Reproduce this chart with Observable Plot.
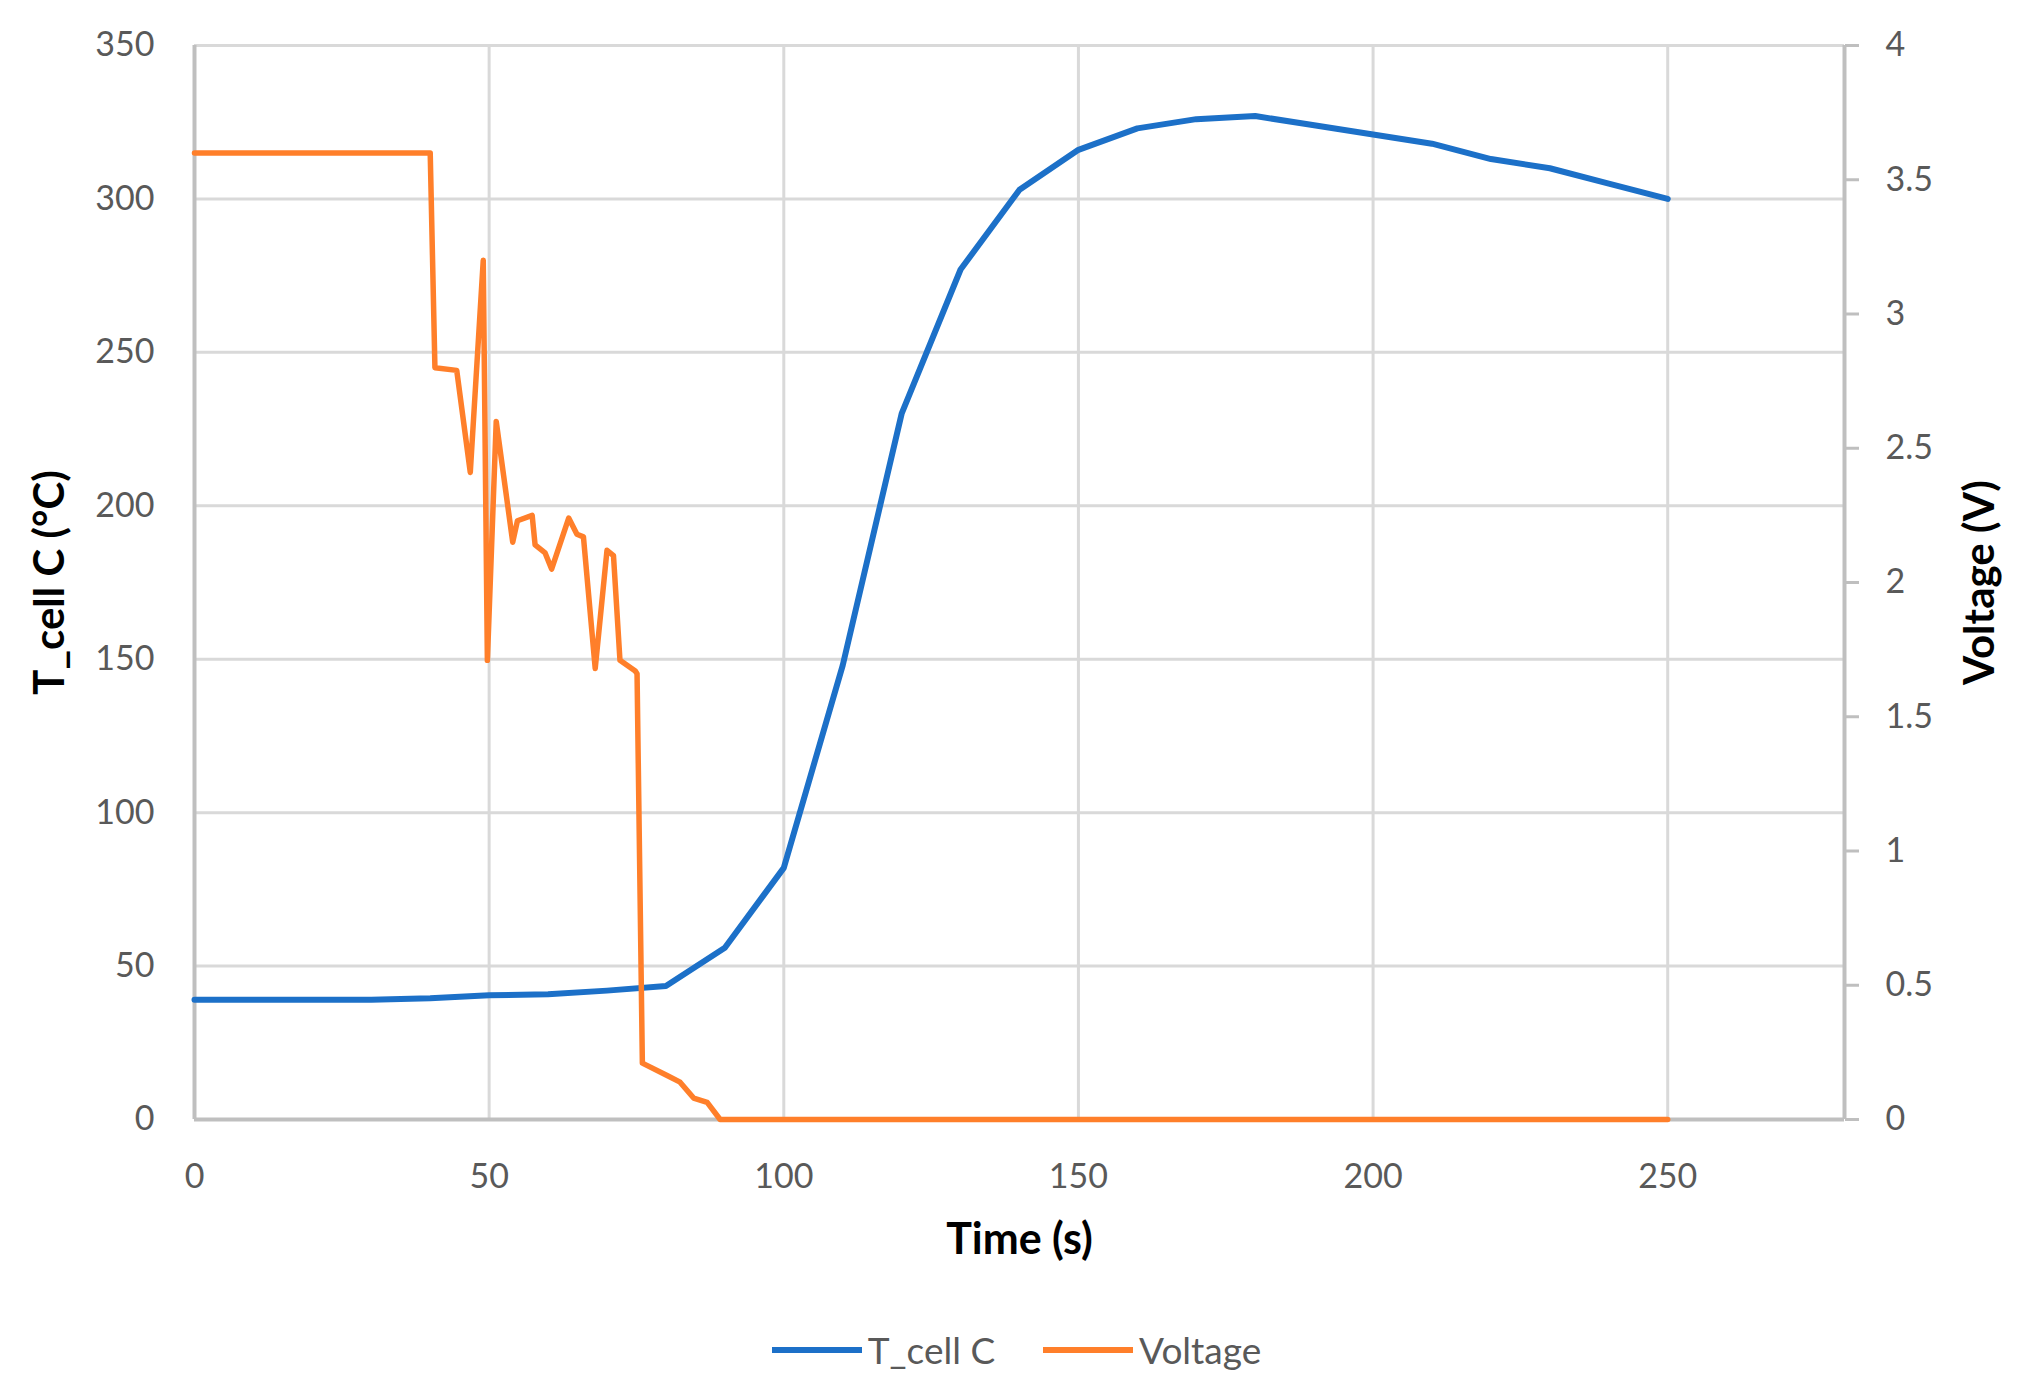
<!DOCTYPE html>
<html>
<head>
<meta charset="utf-8">
<script src="https://cdn.jsdelivr.net/npm/d3@7"></script>
<script src="https://cdn.jsdelivr.net/npm/@observablehq/plot@0.6"></script>
<style>
  html, body { margin: 0; padding: 0; background: #fff; }
  #chart svg { display: block; }
  .legend { height: 91px; box-sizing: border-box; padding-top: 18px; padding-left: 14px;
    display: flex; justify-content: center; align-items: center;
    font-family: Lato, sans-serif; font-size: 37px; color: #595959; }
  .item { display: flex; align-items: center; margin: 0 24px; }
  .sw { display: inline-block; width: 90px; height: 6px; margin-right: 6px; }
</style>
</head>
<body>
<div id="chart"></div>
<div class="legend">
  <div class="item"><span class="sw" style="background:#1c70c8"></span><span>T_cell C</span></div>
  <div class="item"><span class="sw" style="background:#ff7f2a"></span><span>Voltage</span></div>
</div>
<script>
// Temperature series (T_cell C, °C)
const tempTime = [0,10,20,30,40,50,60,70,80,90,100,110,120,130,140,150,160,170,180,190,200,210,220,230,240,250];
const tempC    = [39,39,39,39,39.5,40.5,40.8,42,43.5,56,82,148,230,277,303,316,323,326,327,324,321,318,313,310,305,300];

// Voltage series (V)
const voltTime = [0,40,40.8,44.5,46.8,49.0,49.7,51.2,54.0,54.8,57.3,57.8,59.5,60.6,63.5,64.9,66.0,68.0,70.0,71.1,72.2,74.8,75.1,76.0,80.2,82.4,84.7,87.0,89.2,250];
const voltV    = [3.6,3.6,2.8,2.79,2.41,3.2,1.71,2.6,2.15,2.23,2.25,2.14,2.11,2.05,2.24,2.18,2.17,1.68,2.12,2.1,1.71,1.67,1.66,0.21,0.164,0.139,0.08,0.064,0,0];

// Axis ticks
const xTicks = [0,50,100,150,200,250];
const yTicks = [0,50,100,150,200,250,300,350];
const vTicks = [0,0.5,1,1.5,2,2.5,3,3.5,4];

const labels = { y: "T_cell C (°C)", y2: "Voltage (V)", x: "Time (s)" };

const Tmax = 350, Vmax = 4, k = Tmax / Vmax;
const tempData = tempTime.map((t, i) => ({t, v: tempC[i]}));
const voltData = voltTime.map((t, i) => ({t, v: voltV[i]}));

const chart = Plot.plot({
  width: 2019,
  height: 1295,
  marginLeft: 194,
  marginRight: 175,
  marginTop: 45,
  marginBottom: 176,
  style: { fontFamily: "Lato, sans-serif", background: "#fff" },
  x: { domain: [0, 280] },
  y: { domain: [0, Tmax] },
  marks: [
    Plot.gridY(yTicks, { stroke: "#d9d9d9", strokeOpacity: 1, strokeWidth: 3 }),
    Plot.gridX(xTicks, { stroke: "#d9d9d9", strokeOpacity: 1, strokeWidth: 3 }),
    Plot.ruleX([0, 280], { stroke: "#bfbfbf", strokeWidth: 4 }),
    Plot.ruleY([0], { stroke: "#bfbfbf", strokeWidth: 4 }),
    Plot.axisX({ ticks: xTicks, tickSize: 0, tickPadding: 44, fontSize: 34, color: "#595959", label: null }),
    Plot.axisY({ anchor: "left", ticks: yTicks, tickSize: 0, tickPadding: 40, fontSize: 34, color: "#595959", label: null }),
    Plot.axisY({ anchor: "right", ticks: vTicks.map(v => v * k), tickSize: 14, tickPadding: 27,
      stroke: "#bfbfbf", strokeWidth: 3, fill: "#595959", fontSize: 34,
      tickFormat: d => String(+(d / k).toFixed(2)), label: null }),
    Plot.line(tempData, { x: "t", y: "v", stroke: "#1c70c8", strokeWidth: 6, strokeLinejoin: "round" }),
    Plot.line(voltData, { x: "t", y: d => d.v * k, stroke: "#ff7f2a", strokeWidth: 5.5, strokeLinejoin: "round" }),
    Plot.text([labels.y], { text: d => d, frameAnchor: "left", textAnchor: "middle", dx: -144, rotate: -90, fontSize: 42, fontWeight: "bold", fill: "#000" }),
    Plot.text([labels.y2], { text: d => d, frameAnchor: "right", textAnchor: "middle", dx: 136, rotate: -90, fontSize: 42, fontWeight: "bold", fill: "#000" }),
    Plot.text([labels.x], { text: d => d, frameAnchor: "bottom", textAnchor: "middle", dy: 134, fontSize: 43, fontWeight: "bold", fill: "#000" })
  ]
});
document.getElementById("chart").appendChild(chart);
</script>
</body>
</html>
